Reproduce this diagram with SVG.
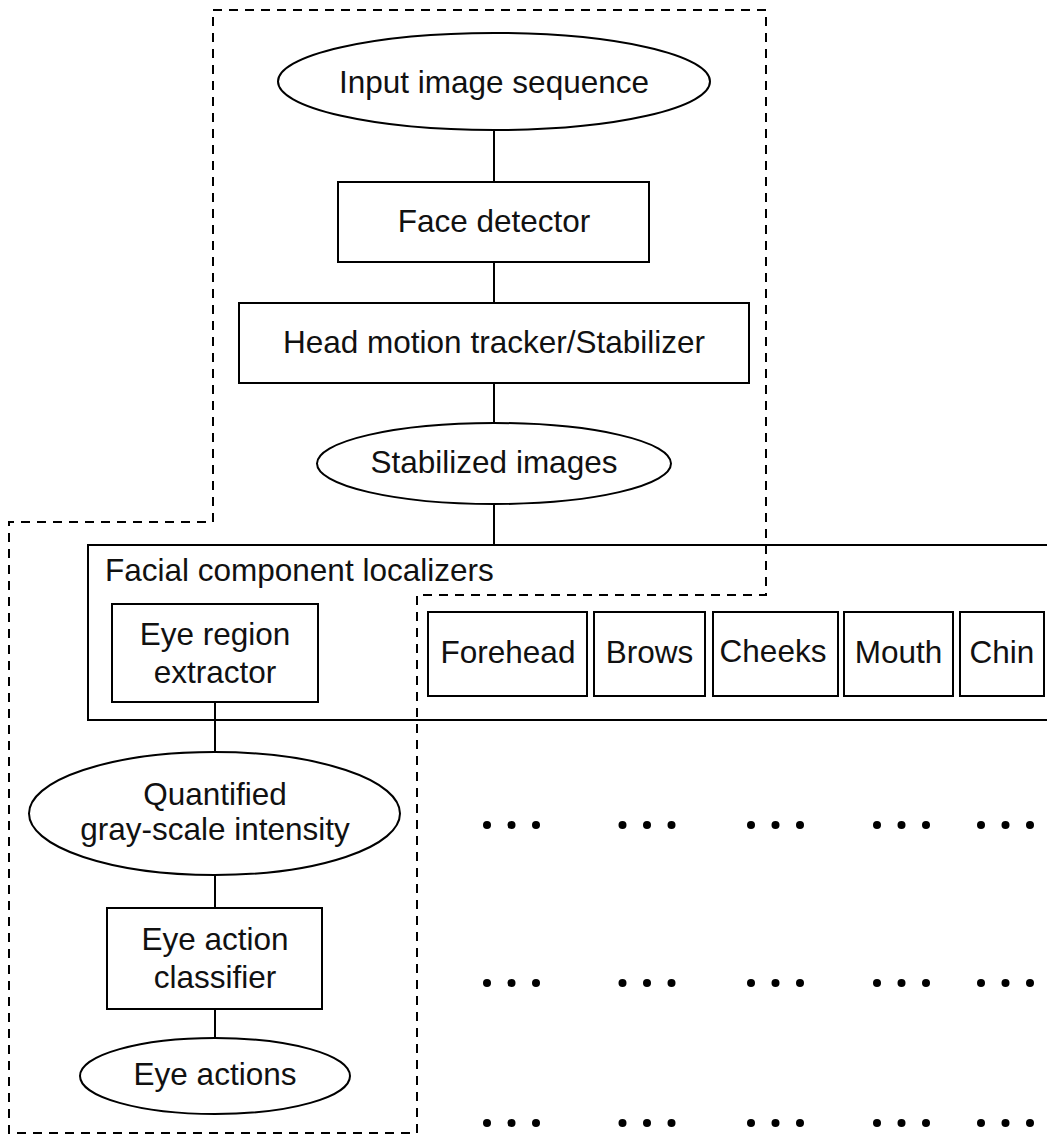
<svg xmlns="http://www.w3.org/2000/svg" width="1047" height="1135" viewBox="0 0 1047 1135">
<style>
  .shape { fill: #ffffff; stroke: #000000; stroke-width: 2; }
  .frame { fill: none; stroke: #000000; stroke-width: 2; }
  .dash { fill: none; stroke: #000000; stroke-width: 2; stroke-dasharray: 9 7; }
  .conn { stroke: #000000; stroke-width: 2; fill: none; }
  .lbl { font-family: "Liberation Sans", Arial, Helvetica, sans-serif; font-size: 31.5px; fill: #111111; text-anchor: middle; }
  .title { font-family: "Liberation Sans", Arial, Helvetica, sans-serif; font-size: 31.5px; fill: #111111; }
  .dot { fill: #000000; }
</style>
<rect width="1047" height="1135" fill="#ffffff"/>

<g id="connectors">
  <line class="conn" x1="494" y1="130" x2="494" y2="182"/>
  <line class="conn" x1="494" y1="262" x2="494" y2="303"/>
  <line class="conn" x1="494" y1="383" x2="494" y2="423"/>
  <line class="conn" x1="494" y1="504" x2="494" y2="545"/>
  <line class="conn" x1="215" y1="702" x2="215" y2="752"/>
  <line class="conn" x1="215" y1="875" x2="215" y2="908"/>
  <line class="conn" x1="215" y1="1009" x2="215" y2="1038"/>
</g>

<g id="facial-localizers">
  <rect class="frame" x="88" y="545" width="1000" height="175"/>
  <text class="title" x="105" y="581">Facial component localizers</text>
</g>

<g id="dashed-region">
  <path class="dash" d="M213,10 H766 V595 H417 V1133 H9 V522 H213 Z"/>
</g>

<g id="input-image-sequence">
  <ellipse class="shape" cx="494" cy="81.5" rx="216" ry="48.5"/>
  <text class="lbl" x="494" y="93">Input image sequence</text>
</g>

<g id="face-detector">
  <rect class="shape" x="338" y="182" width="311" height="80"/>
  <text class="lbl" x="494" y="232">Face detector</text>
</g>

<g id="head-motion-tracker">
  <rect class="shape" x="239" y="303" width="510" height="80"/>
  <text class="lbl" x="494" y="353">Head motion tracker/Stabilizer</text>
</g>

<g id="stabilized-images">
  <ellipse class="shape" cx="494" cy="463.5" rx="177" ry="40.5"/>
  <text class="lbl" x="494" y="473">Stabilized images</text>
</g>

<g id="eye-region-extractor">
  <rect class="shape" x="112" y="604" width="206" height="98"/>
  <text class="lbl" x="215" y="645">Eye region</text>
  <text class="lbl" x="215" y="683">extractor</text>
</g>

<g id="forehead">
  <rect class="shape" x="428" y="612" width="159" height="84"/>
  <text class="lbl" x="508" y="663">Forehead</text>
</g>
<g id="brows">
  <rect class="shape" x="594" y="612" width="111" height="84"/>
  <text class="lbl" x="649.5" y="663">Brows</text>
</g>
<g id="cheeks">
  <rect class="shape" x="713" y="612" width="125" height="84"/>
  <text class="lbl" x="773" y="662">Cheeks</text>
</g>
<g id="mouth">
  <rect class="shape" x="844" y="612" width="109" height="84"/>
  <text class="lbl" x="898.5" y="663">Mouth</text>
</g>
<g id="chin">
  <rect class="shape" x="960" y="612" width="84" height="84"/>
  <text class="lbl" x="1002" y="663">Chin</text>
</g>

<g id="quantified-intensity">
  <ellipse class="shape" cx="214.5" cy="813.5" rx="185.5" ry="61.5"/>
  <text class="lbl" x="215" y="805">Quantified</text>
  <text class="lbl" x="215" y="840">gray-scale intensity</text>
</g>

<g id="eye-action-classifier">
  <rect class="shape" x="107" y="908" width="215" height="101"/>
  <text class="lbl" x="215" y="950">Eye action</text>
  <text class="lbl" x="215" y="988">classifier</text>
</g>

<g id="eye-actions">
  <ellipse class="shape" cx="215" cy="1076" rx="135" ry="38"/>
  <text class="lbl" x="215" y="1085">Eye actions</text>
</g>

<defs>
  <g id="ellipsis">
    <circle class="dot" cx="0" cy="0" r="4"/>
    <circle class="dot" cx="24.5" cy="0" r="4"/>
    <circle class="dot" cx="49" cy="0" r="4"/>
  </g>
  <g id="ellipsis-row">
    <use href="#ellipsis" x="487"/>
    <use href="#ellipsis" x="622.5"/>
    <use href="#ellipsis" x="751"/>
    <use href="#ellipsis" x="877"/>
    <use href="#ellipsis" x="981"/>
  </g>
</defs>

<g id="ellipses">
  <use href="#ellipsis-row" y="825"/>
  <use href="#ellipsis-row" y="983"/>
  <use href="#ellipsis-row" y="1123"/>
</g>
</svg>
